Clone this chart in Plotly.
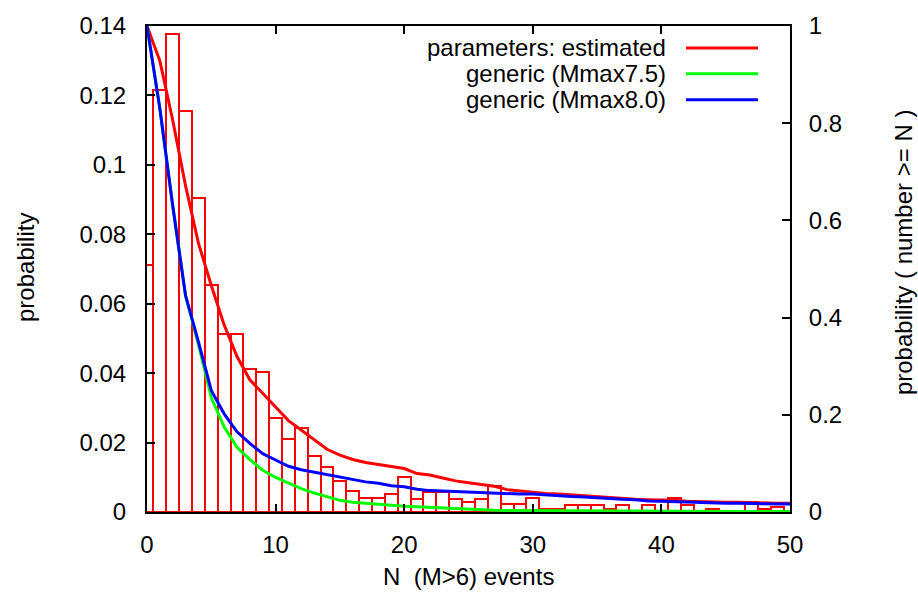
import plotly.graph_objects as go

# ---- data ----
hist_n = list(range(0, 50))
hist_prob = [0.0712, 0.1215, 0.1376, 0.1154, 0.0904, 0.0653, 0.0512, 0.0512, 0.0411, 0.0402,
             0.0271, 0.0210, 0.0241, 0.0161, 0.0130, 0.0090, 0.0060, 0.0041, 0.0041, 0.0051,
             0.0101, 0.0038, 0.0057, 0.0057, 0.0038, 0.0030, 0.0038, 0.0074, 0.0022, 0.0022,
             0.0039, 0.0009, 0.0009, 0.0021, 0.0021, 0.0021, 0.0008, 0.0021, None, 0.0021,
             None, 0.0039, 0.0021, None, 0.0009, None, None, 0.0030, 0.0009, 0.0015]

curve_n = list(range(0, 51))
p_estimated = [1.0, 0.928, 0.806, 0.671, 0.553, 0.466, 0.385, 0.320, 0.272, 0.245,
               0.216, 0.188, 0.168, 0.148, 0.129, 0.117, 0.108, 0.102, 0.098, 0.094,
               0.0895, 0.079, 0.076, 0.070, 0.064, 0.060, 0.057, 0.053, 0.046, 0.043,
               0.040, 0.038, 0.037, 0.035, 0.033, 0.031, 0.029, 0.028, 0.026, 0.025,
               0.025, 0.024, 0.022, 0.021, 0.021, 0.020, 0.020, 0.019, 0.018, 0.018, 0.018]
p_mmax75 = [1.0, 0.83, 0.63, 0.445, 0.345, 0.235, 0.175, 0.133, 0.108, 0.086,
            0.071, 0.059, 0.048, 0.039, 0.031, 0.024, 0.020, 0.018, 0.016, 0.013,
            0.012, 0.011, 0.0096, 0.008, 0.0065, 0.0055, 0.0045, 0.0038, 0.0032, 0.003,
            0.0028, 0.0026, 0.0024, 0.0022, 0.002, 0.002, 0.0018, 0.0017, 0.0016, 0.0015,
            0.0014, 0.0013, 0.0012, 0.0012, 0.0011, 0.0011, 0.001, 0.001, 0.001, 0.001, 0.001]
p_mmax80 = [1.0, 0.83, 0.63, 0.445, 0.35, 0.25, 0.202, 0.165, 0.141, 0.120,
            0.107, 0.094, 0.087, 0.082, 0.077, 0.072, 0.066, 0.062, 0.059, 0.054,
            0.052, 0.047, 0.044, 0.043, 0.042, 0.040, 0.040, 0.039, 0.038, 0.037,
            0.037, 0.035, 0.034, 0.032, 0.031, 0.029, 0.027, 0.026, 0.025, 0.0225,
            0.022, 0.021, 0.0205, 0.020, 0.019, 0.018, 0.018, 0.017, 0.017, 0.0165, 0.0164]

series_names = ["parameters: estimated", "generic (Mmax7.5)", "generic (Mmax8.0)"]
series_colors = ["#ff0000", "#00ff00", "#0000ff"]

x_ticks = [0, 10, 20, 30, 40, 50]
y_ticks = [0, 0.02, 0.04, 0.06, 0.08, 0.10, 0.12, 0.14]
y_ticktext = ["0", "0.02", "0.04", "0.06", "0.08", "0.1", "0.12", "0.14"]
y2_ticks = [0, 0.2, 0.4, 0.6, 0.8, 1.0]
y2_ticktext = ["0", "0.2", "0.4", "0.6", "0.8", "1"]

FONT = "Liberation Sans, Arial, sans-serif"
W, H = 918, 594
L, R, T, B = 147, 128, 24, 82

fig = go.Figure()
fig.add_trace(go.Bar(x=hist_n, y=hist_prob, width=1, showlegend=False,
                     marker=dict(color="rgba(0,0,0,0)", line=dict(color="#ff0000", width=2)),
                     yaxis="y"))
for name, col, vals in zip(series_names, series_colors, [p_estimated, p_mmax75, p_mmax80]):
    fig.add_trace(go.Scatter(x=curve_n, y=vals, mode="lines", name=name, showlegend=False,
                             line=dict(color=col, width=3), yaxis="y2"))

axis_common = dict(showgrid=False, zeroline=False, showline=True, linecolor="black",
                   linewidth=2, ticks="inside", ticklen=8, tickwidth=1.5, tickcolor="black",
                   tickfont=dict(family=FONT, size=24, color="black"))

fig.update_layout(
    width=W, height=H,
    margin=dict(l=L, r=R, t=T, b=B, pad=0),
    paper_bgcolor="white", plot_bgcolor="white",
    bargap=0,
    xaxis=dict(range=[0, 50], tickvals=x_ticks, mirror="ticks", ticklabelstandoff=10,
               **axis_common),
    yaxis=dict(range=[0, 0.14], tickvals=y_ticks, ticktext=y_ticktext, mirror=True,
               ticklabelstandoff=14, **axis_common),
    yaxis2=dict(range=[0, 1], tickvals=y2_ticks, ticktext=y2_ticktext, overlaying="y",
                side="right", ticklabelstandoff=12, **axis_common),
)

def px_to_paper_x(px):
    return (px - L) / (W - L - R)

def px_to_paper_y(py):
    return (H - B - py) / (H - T - B)

ann_font = dict(family=FONT, size=24, color="black")
annotations = [
    dict(text="probability", x=25, y=267, textangle=-90),
    dict(text="N\u00a0 (M>6) events", x=468, y=577, textangle=0),
    dict(text="probability ( number >= N )", x=903, y=252, textangle=-90),
]
for a in annotations:
    fig.add_annotation(text=a["text"], xref="paper", yref="paper",
                       x=px_to_paper_x(a["x"]), y=px_to_paper_y(a["y"]),
                       xanchor="center", yanchor="middle", textangle=a["textangle"],
                       showarrow=False, font=ann_font)

# manual gnuplot-style legend (text right-aligned, then line sample)
legend_rows = [46, 72, 98]
for name, col, yy in zip(series_names, series_colors, legend_rows):
    fig.add_annotation(text=name, xref="paper", yref="paper",
                       x=px_to_paper_x(668), y=px_to_paper_y(yy),
                       xanchor="right", yanchor="middle", showarrow=False, font=ann_font)
    fig.add_shape(type="line", xref="paper", yref="paper",
                  x0=px_to_paper_x(686), x1=px_to_paper_x(758),
                  y0=px_to_paper_y(yy), y1=px_to_paper_y(yy),
                  line=dict(color=col, width=3))

fig.write_html("out.html",
               config={"displayModeBar": False},
               post_script="document.body.style.margin='0';document.body.style.padding='0';"
                           "document.body.style.overflow='hidden';")
